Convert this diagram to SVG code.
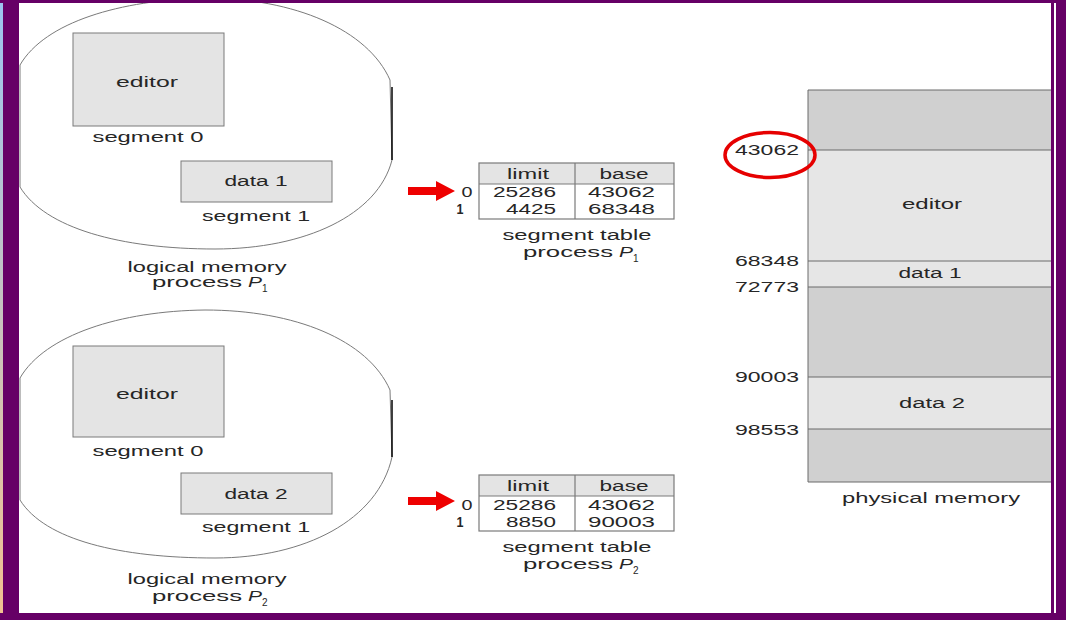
<svg xmlns="http://www.w3.org/2000/svg" width="1066" height="620" viewBox="0 0 1066 620">
  <defs>
    <linearGradient id="edge" x1="0" y1="0" x2="0" y2="1">
      <stop offset="0" stop-color="#9cc4f0"/>
      <stop offset="1" stop-color="#f2c290"/>
    </linearGradient>
    <style>
      .t{font-family:"Liberation Sans",Arial,sans-serif;font-size:14px;fill:#262626}
      .m{text-anchor:middle}
      .e{text-anchor:end}
      .it{font-style:italic}
      .sub{font-size:10px}
      .seg{fill:#e4e4e4;stroke:#7a7a7a;stroke-width:1}
      .blob{fill:none;stroke:#7a7a7a;stroke-width:1}
      .vbar{stroke:#111;stroke-width:1.6}
      .hdr{fill:#e4e4e4;stroke:none}
      .tb{fill:none;stroke:#7a7a7a;stroke-width:1.2}
      .dark{fill:#d0d0d0}
      .light{fill:#e6e6e6}
      .ln{stroke:#6a6a6a;stroke-width:1}
      .arrow{fill:#ee0000}
      .frame{fill:#660066}
    </style>
  </defs>

  <rect width="1066" height="620" fill="#ffffff"/>

  <!-- logical memory P1 -->
  <g id="logical-p1">
    <path class="blob" d="M20,187 L20,65 C45,22 120,0 205,-2 C295,-2 368,30 390,80 L392,160 C378,215 305,249 215,249 C120,249 45,228 20,187 Z"/>
    <line class="vbar" x1="392" y1="87" x2="392" y2="160"/>
    <g id="p1-seg0">
      <rect class="seg" x="73" y="33" width="151" height="93"/>
      <text class="t m" x="147" y="87" textLength="62" lengthAdjust="spacingAndGlyphs">editor</text>
      <text class="t m" x="148" y="142" textLength="111" lengthAdjust="spacingAndGlyphs">segment 0</text>
    </g>
    <g id="p1-seg1">
      <rect class="seg" x="181" y="161" width="151" height="41"/>
      <text class="t m" x="256" y="186" textLength="63" lengthAdjust="spacingAndGlyphs">data 1</text>
      <text class="t m" x="256" y="221" textLength="108" lengthAdjust="spacingAndGlyphs">segment 1</text>
    </g>
    <text class="t m" x="207" y="272" textLength="159" lengthAdjust="spacingAndGlyphs">logical memory</text>
    <text class="t" x="152" y="287" textLength="90" lengthAdjust="spacingAndGlyphs">process</text>
    <text class="t it" x="248" y="287" textLength="14" lengthAdjust="spacingAndGlyphs">P</text>
    <text class="t sub" x="262" y="292">1</text>
  </g>

  <!-- logical memory P2 -->
  <g id="logical-p2">
    <path class="blob" d="M20,500 L20,378 C45,335 120,311 205,310 C295,310 368,340 390,390 L392,457 C378,520 305,558 215,558 C120,558 45,540 20,500 Z"/>
    <line class="vbar" x1="392" y1="400" x2="392" y2="457"/>
    <g id="p2-seg0">
      <rect class="seg" x="73" y="346" width="151" height="91"/>
      <text class="t m" x="147" y="399" textLength="62" lengthAdjust="spacingAndGlyphs">editor</text>
      <text class="t m" x="148" y="456" textLength="111" lengthAdjust="spacingAndGlyphs">segment 0</text>
    </g>
    <g id="p2-seg1">
      <rect class="seg" x="181" y="473" width="151" height="41"/>
      <text class="t m" x="256" y="499" textLength="63" lengthAdjust="spacingAndGlyphs">data 2</text>
      <text class="t m" x="256" y="532" textLength="108" lengthAdjust="spacingAndGlyphs">segment 1</text>
    </g>
    <text class="t m" x="207" y="584" textLength="159" lengthAdjust="spacingAndGlyphs">logical memory</text>
    <text class="t" x="152" y="601" textLength="90" lengthAdjust="spacingAndGlyphs">process</text>
    <text class="t it" x="248" y="601" textLength="14" lengthAdjust="spacingAndGlyphs">P</text>
    <text class="t sub" x="262" y="606">2</text>
  </g>

  <!-- segment table P1 -->
  <g id="table-p1">
    <rect class="hdr" x="479" y="163" width="195" height="21"/>
    <rect class="tb" x="479" y="163" width="195" height="56"/>
    <line class="tb" x1="479" y1="184" x2="674" y2="184"/>
    <line class="tb" x1="575" y1="163" x2="575" y2="219"/>
    <text class="t m" x="528" y="179" textLength="42" lengthAdjust="spacingAndGlyphs">limit</text>
    <text class="t m" x="624" y="179" textLength="49" lengthAdjust="spacingAndGlyphs">base</text>
    <text class="t m" x="467" y="197" textLength="11" lengthAdjust="spacingAndGlyphs">0</text>
    <text class="t m" x="460" y="214" font-weight="bold" textLength="7" lengthAdjust="spacingAndGlyphs">1</text>
    <text class="t e" x="556" y="197" textLength="63" lengthAdjust="spacingAndGlyphs">25286</text>
    <text class="t e" x="556" y="214" textLength="50" lengthAdjust="spacingAndGlyphs">4425</text>
    <text class="t e" x="655" y="197" textLength="67" lengthAdjust="spacingAndGlyphs">43062</text>
    <text class="t e" x="655" y="214" textLength="67" lengthAdjust="spacingAndGlyphs">68348</text>
    <text class="t m" x="577" y="240" textLength="149" lengthAdjust="spacingAndGlyphs">segment table</text>
    <text class="t" x="523" y="257" textLength="90" lengthAdjust="spacingAndGlyphs">process</text>
    <text class="t it" x="619" y="257" textLength="14" lengthAdjust="spacingAndGlyphs">P</text>
    <text class="t sub" x="633" y="262">1</text>
  </g>

  <!-- segment table P2 -->
  <g id="table-p2">
    <rect class="hdr" x="479" y="475" width="195" height="21"/>
    <rect class="tb" x="479" y="475" width="195" height="56"/>
    <line class="tb" x1="479" y1="496" x2="674" y2="496"/>
    <line class="tb" x1="575" y1="475" x2="575" y2="531"/>
    <text class="t m" x="528" y="491" textLength="42" lengthAdjust="spacingAndGlyphs">limit</text>
    <text class="t m" x="624" y="491" textLength="49" lengthAdjust="spacingAndGlyphs">base</text>
    <text class="t m" x="467" y="510" textLength="11" lengthAdjust="spacingAndGlyphs">0</text>
    <text class="t m" x="460" y="527" font-weight="bold" textLength="7" lengthAdjust="spacingAndGlyphs">1</text>
    <text class="t e" x="556" y="510" textLength="63" lengthAdjust="spacingAndGlyphs">25286</text>
    <text class="t e" x="556" y="527" textLength="50" lengthAdjust="spacingAndGlyphs">8850</text>
    <text class="t e" x="655" y="510" textLength="67" lengthAdjust="spacingAndGlyphs">43062</text>
    <text class="t e" x="655" y="527" textLength="67" lengthAdjust="spacingAndGlyphs">90003</text>
    <text class="t m" x="577" y="552" textLength="149" lengthAdjust="spacingAndGlyphs">segment table</text>
    <text class="t" x="523" y="569" textLength="90" lengthAdjust="spacingAndGlyphs">process</text>
    <text class="t it" x="619" y="569" textLength="14" lengthAdjust="spacingAndGlyphs">P</text>
    <text class="t sub" x="633" y="574">2</text>
  </g>

  <!-- physical memory -->
  <g id="physical-memory">
    <rect class="dark" x="808" y="90" width="244" height="60"/>
    <rect class="light" x="808" y="150" width="244" height="111"/>
    <rect class="light" x="808" y="261" width="244" height="26"/>
    <rect class="dark" x="808" y="287" width="244" height="90"/>
    <rect class="light" x="808" y="377" width="244" height="52"/>
    <rect class="dark" x="808" y="429" width="244" height="53"/>
    <line class="ln" x1="808" y1="90" x2="808" y2="482"/>
    <line class="ln" x1="808" y1="90" x2="1052" y2="90"/>
    <line class="ln" x1="808" y1="150" x2="1052" y2="150"/>
    <line class="ln" x1="808" y1="261" x2="1052" y2="261"/>
    <line class="ln" x1="808" y1="287" x2="1052" y2="287"/>
    <line class="ln" x1="808" y1="377" x2="1052" y2="377"/>
    <line class="ln" x1="808" y1="429" x2="1052" y2="429"/>
    <line class="ln" x1="808" y1="482" x2="1052" y2="482"/>
    <text class="t m" x="932" y="209" textLength="60" lengthAdjust="spacingAndGlyphs">editor</text>
    <text class="t m" x="930" y="278" textLength="63" lengthAdjust="spacingAndGlyphs">data 1</text>
    <text class="t m" x="932" y="408" textLength="66" lengthAdjust="spacingAndGlyphs">data 2</text>
    <text class="t e" x="799" y="155" textLength="64" lengthAdjust="spacingAndGlyphs">43062</text>
    <text class="t e" x="799" y="266" textLength="64" lengthAdjust="spacingAndGlyphs">68348</text>
    <text class="t e" x="799" y="292" textLength="64" lengthAdjust="spacingAndGlyphs">72773</text>
    <text class="t e" x="799" y="382" textLength="64" lengthAdjust="spacingAndGlyphs">90003</text>
    <text class="t e" x="799" y="435" textLength="64" lengthAdjust="spacingAndGlyphs">98553</text>
    <text class="t m" x="931" y="503" textLength="178" lengthAdjust="spacingAndGlyphs">physical memory</text>
  </g>

  <!-- highlight -->
  <g id="highlight">
    <ellipse cx="770" cy="155" rx="45" ry="22.5" fill="none" stroke="#e60000" stroke-width="3.5"/>
  </g>

  <!-- connectors -->
  <g id="connectors">
    <path class="arrow" d="M408,187 L436,187 L436,181 L455,191 L436,201 L436,195 L408,195 Z"/>
    <path class="arrow" d="M408,497 L436,497 L436,491 L455,501 L436,511 L436,505 L408,505 Z"/>
  </g>

  <!-- frame -->
  <g id="frame">
    <rect x="0" y="0" width="3" height="620" fill="url(#edge)"/>
    <rect class="frame" x="3" y="0" width="16" height="620"/>
    <rect class="frame" x="0" y="0" width="1066" height="3"/>
    <rect class="frame" x="0" y="613" width="1066" height="7"/>
    <rect class="frame" x="1051" y="0" width="3" height="620"/>
    <rect class="frame" x="1056" y="0" width="10" height="620"/>
  </g>
</svg>
